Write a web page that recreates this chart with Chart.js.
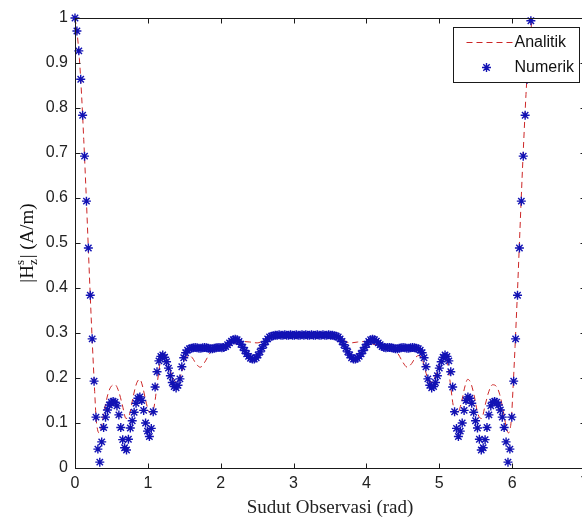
<!DOCTYPE html>
<html>
<head>
<meta charset="utf-8">
<script src="https://cdn.jsdelivr.net/npm/chart.js@4.4.0/dist/chart.umd.min.js"></script>
<style>
  html, body { margin: 0; padding: 0; overflow: hidden; background: #fff; }
  #wrap { width: 582px; height: 522px; overflow: hidden; }
</style>
</head>
<body>
<div id="wrap"><canvas id="plot" width="600" height="522"></canvas></div>
<script>
// numerik is sampled every 1.5 degrees, 0 .. 358.5
const step = Math.PI / 120;

const numerik = [
  1.000, 0.971, 0.927, 0.864, 0.784, 0.693, 0.593, 0.489, 0.384, 0.287,
  0.193, 0.113, 0.042, 0.013, 0.058, 0.090, 0.113, 0.129, 0.140, 0.146,
  0.148, 0.146, 0.138, 0.118, 0.090, 0.063, 0.045, 0.040, 0.064, 0.089,
  0.105, 0.124, 0.144, 0.155, 0.158, 0.150, 0.128, 0.100, 0.082, 0.070,
  0.088, 0.125, 0.180, 0.214, 0.238, 0.248, 0.251, 0.246, 0.236, 0.222,
  0.205, 0.190, 0.181, 0.178, 0.184, 0.198, 0.225, 0.245, 0.256, 0.262,
  0.265, 0.266, 0.267, 0.268, 0.267, 0.266, 0.266, 0.267, 0.268, 0.267,
  0.266, 0.265, 0.265, 0.266, 0.267, 0.268, 0.268, 0.267, 0.268, 0.270,
  0.274, 0.278, 0.282, 0.285, 0.286, 0.285, 0.281, 0.275, 0.268, 0.261,
  0.254, 0.248, 0.244, 0.242, 0.242, 0.245, 0.251, 0.258, 0.266, 0.274,
  0.281, 0.287, 0.291, 0.293, 0.294, 0.295, 0.295, 0.296, 0.295, 0.295,
  0.296, 0.295, 0.295, 0.296, 0.295, 0.295, 0.296, 0.295, 0.295, 0.296,
  0.295, 0.296, 0.295, 0.295, 0.296, 0.295, 0.295, 0.296, 0.295, 0.295,
  0.296, 0.295, 0.295, 0.296, 0.295, 0.295, 0.294, 0.293, 0.291, 0.287,
  0.281, 0.274, 0.266, 0.258, 0.251, 0.245, 0.242, 0.242, 0.244, 0.248,
  0.254, 0.261, 0.268, 0.275, 0.281, 0.285, 0.286, 0.285, 0.282, 0.278,
  0.274, 0.270, 0.268, 0.267, 0.268, 0.268, 0.267, 0.266, 0.265, 0.265,
  0.266, 0.267, 0.268, 0.267, 0.266, 0.266, 0.267, 0.268, 0.267, 0.266,
  0.265, 0.262, 0.256, 0.245, 0.225, 0.198, 0.184, 0.178, 0.181, 0.190,
  0.205, 0.222, 0.236, 0.246, 0.251, 0.248, 0.238, 0.214, 0.180, 0.125,
  0.088, 0.070, 0.082, 0.100, 0.128, 0.150, 0.158, 0.155, 0.144, 0.124,
  0.105, 0.089, 0.064, 0.040, 0.045, 0.063, 0.090, 0.118, 0.138, 0.146,
  0.148, 0.146, 0.140, 0.129, 0.113, 0.090, 0.058, 0.013, 0.042, 0.113,
  0.193, 0.287, 0.384, 0.489, 0.593, 0.693, 0.784, 0.864, 0.927, 0.994
];

const analitikX = [
  0, 0.03, 0.06, 0.09, 0.12, 0.15, 0.18, 0.21, 0.24, 0.27,
  0.29, 0.31, 0.33, 0.36, 0.40, 0.45, 0.50, 0.55, 0.60, 0.65,
  0.70, 0.75, 0.80, 0.85, 0.89, 0.93, 0.97, 1.01, 1.05, 1.09,
  1.13, 1.17, 1.21, 1.26, 1.31, 1.36, 1.41, 1.46, 1.51, 1.56,
  1.61, 1.66, 1.72, 1.78, 1.85, 1.92, 2.00, 2.10, 2.20, 2.30,
  2.40, 2.50, 2.60, 2.70, 2.80, 2.95, 3.14,
  3.33, 3.48, 3.58, 3.68, 3.78, 3.88, 3.98, 4.08, 4.18, 4.28,
  4.36, 4.43, 4.50, 4.56, 4.62, 4.67, 4.72, 4.77, 4.82, 4.87,
  4.92, 4.97, 5.02, 5.07, 5.11, 5.15, 5.19, 5.23, 5.27, 5.31,
  5.35, 5.39, 5.43, 5.48, 5.53, 5.58, 5.63, 5.68, 5.73, 5.78,
  5.83, 5.88, 5.92, 5.95, 5.97, 5.99, 6.01, 6.04, 6.07, 6.10,
  6.13, 6.16, 6.19, 6.22, 6.25, 6.28
];

const analitikY = [
  1.000, 0.965, 0.910, 0.830, 0.730, 0.620, 0.500, 0.380, 0.270, 0.170,
  0.110, 0.085, 0.078, 0.090, 0.125, 0.163, 0.182, 0.185, 0.170, 0.140,
  0.110, 0.120, 0.160, 0.190, 0.197, 0.180, 0.150, 0.127, 0.120, 0.140,
  0.190, 0.235, 0.250, 0.240, 0.215, 0.195, 0.190, 0.210, 0.240, 0.250,
  0.245, 0.232, 0.224, 0.235, 0.255, 0.268, 0.272, 0.272, 0.276, 0.281,
  0.280, 0.278, 0.284, 0.291, 0.294, 0.295, 0.296,
  0.295, 0.294, 0.291, 0.284, 0.278, 0.280, 0.281, 0.276, 0.272, 0.272,
  0.268, 0.255, 0.235, 0.224, 0.232, 0.245, 0.250, 0.240, 0.210, 0.190,
  0.195, 0.215, 0.240, 0.250, 0.235, 0.190, 0.140, 0.120, 0.127, 0.150,
  0.180, 0.197, 0.190, 0.160, 0.120, 0.110, 0.140, 0.170, 0.185, 0.182,
  0.163, 0.125, 0.090, 0.078, 0.085, 0.110, 0.170, 0.270, 0.380, 0.500,
  0.620, 0.730, 0.830, 0.910, 0.965, 1.000
];

const xTicks = ['0', '1', '2', '3', '4', '5', '6', '7'];
const yTicks = ['0', '0.1', '0.2', '0.3', '0.4', '0.5', '0.6', '0.7', '0.8', '0.9', '1'];

const sans = '"Liberation Sans", Arial, sans-serif';
const serif = '"Liberation Serif", "Times New Roman", serif';

// MATLAB style box with inward ticks on all four sides
const framePlugin = {
  id: 'frame',
  afterDatasetsDraw(chart) {
    const { ctx, chartArea: a, scales } = chart;
    const t = 5;
    ctx.save();
    ctx.strokeStyle = '#1a1a1a';
    ctx.lineWidth = 1;
    const L = Math.round(a.left) + 0.5, R = Math.round(a.right) + 0.5;
    const T = Math.round(a.top) + 0.5, B = Math.round(a.bottom) + 0.5;
    ctx.strokeRect(L, T, R - L, B - T);
    ctx.beginPath();
    scales.x.ticks.forEach(tk => {
      const px = Math.round(scales.x.getPixelForValue(tk.value)) + 0.5;
      ctx.moveTo(px, B); ctx.lineTo(px, B - t);
      ctx.moveTo(px, T); ctx.lineTo(px, T + t);
    });
    scales.y.ticks.forEach(tk => {
      const py = Math.round(scales.y.getPixelForValue(tk.value)) + 0.5;
      ctx.moveTo(L, py); ctx.lineTo(L + t, py);
      ctx.moveTo(R, py); ctx.lineTo(R - t, py);
    });
    ctx.stroke();
    ctx.restore();
  }
};

function drawStar(ctx, x, y, r) {
  const d = r * Math.SQRT1_2;
  ctx.beginPath();
  ctx.moveTo(x - r, y); ctx.lineTo(x + r, y);
  ctx.moveTo(x, y - r); ctx.lineTo(x, y + r);
  ctx.moveTo(x - d, y - d); ctx.lineTo(x + d, y + d);
  ctx.moveTo(x - d, y + d); ctx.lineTo(x + d, y - d);
  ctx.stroke();
}

// boxed legend in the upper right corner, plus the y label with sub/superscript
const decorPlugin = {
  id: 'decor',
  afterDraw(chart) {
    const { ctx, chartArea: a } = chart;
    const ds = chart.data.datasets;
    ctx.save();

    const bx = Math.round(a.right) - 131.5, by = Math.round(a.top) + 9.5;
    const bw = 126, bh = 55;
    ctx.fillStyle = '#fff';
    ctx.fillRect(bx, by, bw, bh);
    ctx.strokeStyle = '#1a1a1a';
    ctx.lineWidth = 1;
    ctx.strokeRect(bx, by, bw, bh);

    ctx.font = '16px ' + sans;
    ctx.textBaseline = 'middle';
    ctx.fillStyle = '#111';

    const row1 = by + 15, row2 = by + 40;
    ctx.strokeStyle = ds[0].borderColor;
    ctx.setLineDash(ds[0].borderDash);
    ctx.beginPath();
    ctx.moveTo(bx + 13, row1); ctx.lineTo(bx + 59, row1);
    ctx.stroke();
    ctx.setLineDash([]);
    ctx.fillText(ds[0].label, bx + 61, row1);

    ctx.strokeStyle = ds[1].borderColor;
    ctx.lineWidth = ds[1].pointBorderWidth;
    drawStar(ctx, bx + 33, row2, ds[1].pointRadius);
    ctx.fillText(ds[1].label, bx + 61, row2);

    // y axis label: |H_z^s| (A/m)
    ctx.translate(33, (a.top + a.bottom) / 2);
    ctx.rotate(-Math.PI / 2);
    ctx.textBaseline = 'alphabetic';
    ctx.fillStyle = '#111';
    const big = '19px ' + serif, small = '13px ' + serif;
    ctx.font = big;
    const w1 = ctx.measureText('|H').width;
    const w3 = ctx.measureText('| (A/m)').width;
    ctx.font = small;
    const w2 = ctx.measureText('z').width + 1;
    let x0 = -(w1 + w2 + w3) / 2;
    ctx.font = big;
    ctx.fillText('|H', x0, 0);
    ctx.font = small;
    ctx.fillText('s', x0 + w1, -9);
    ctx.fillText('z', x0 + w1, 4);
    ctx.font = big;
    ctx.fillText('| (A/m)', x0 + w1 + w2, 0);

    ctx.restore();
  }
};

new Chart(document.getElementById('plot'), {
  type: 'line',
  data: {
    datasets: [
      {
        label: 'Analitik',
        data: analitikX.map((x, i) => ({ x: x, y: analitikY[i] })),
        borderColor: '#cc2626',
        borderWidth: 1,
        borderDash: [6, 4],
        pointRadius: 0,
        cubicInterpolationMode: 'monotone',
        fill: false,
        order: 2
      },
      {
        label: 'Numerik',
        data: numerik.map((v, i) => ({ x: i * step, y: v })),
        showLine: false,
        pointStyle: 'star',
        pointRadius: 4.5,
        borderColor: '#1212b4',
        backgroundColor: '#1212b4',
        pointBorderWidth: 1.4,
        clip: false,
        order: 1
      }
    ]
  },
  options: {
    responsive: false,
    animation: false,
    devicePixelRatio: 1,
    layout: { padding: { left: 0, right: 15, top: 18, bottom: 0 } },
    plugins: {
      legend: { display: false },
      tooltip: { enabled: false }
    },
    scales: {
      x: {
        type: 'linear',
        min: 0,
        max: 7,
        grid: { display: false, drawTicks: false },
        border: { display: false },
        ticks: {
          stepSize: 1,
          autoSkip: false,
          maxRotation: 0,
          padding: 6,
          color: '#222',
          font: { family: sans, size: 16 },
          callback: (v, i) => xTicks[i]
        },
        title: {
          display: true,
          text: 'Sudut Observasi (rad)',
          color: '#222',
          font: { family: serif, size: 19 },
          padding: { top: 0, bottom: 3 }
        },
        afterFit: s => { s.height = 54; s.paddingLeft = 0; s.paddingRight = 0; }
      },
      y: {
        min: 0,
        max: 1,
        grid: { display: false, drawTicks: false },
        border: { display: false },
        ticks: {
          stepSize: 0.1,
          autoSkip: false,
          padding: 7,
          color: '#222',
          font: { family: sans, size: 16 },
          callback: (v, i) => yTicks[i]
        },
        afterFit: s => { s.width = 75; s.paddingTop = 0; s.paddingBottom = 0; }
      }
    }
  },
  plugins: [framePlugin, decorPlugin]
});
</script>
</body>
</html>
